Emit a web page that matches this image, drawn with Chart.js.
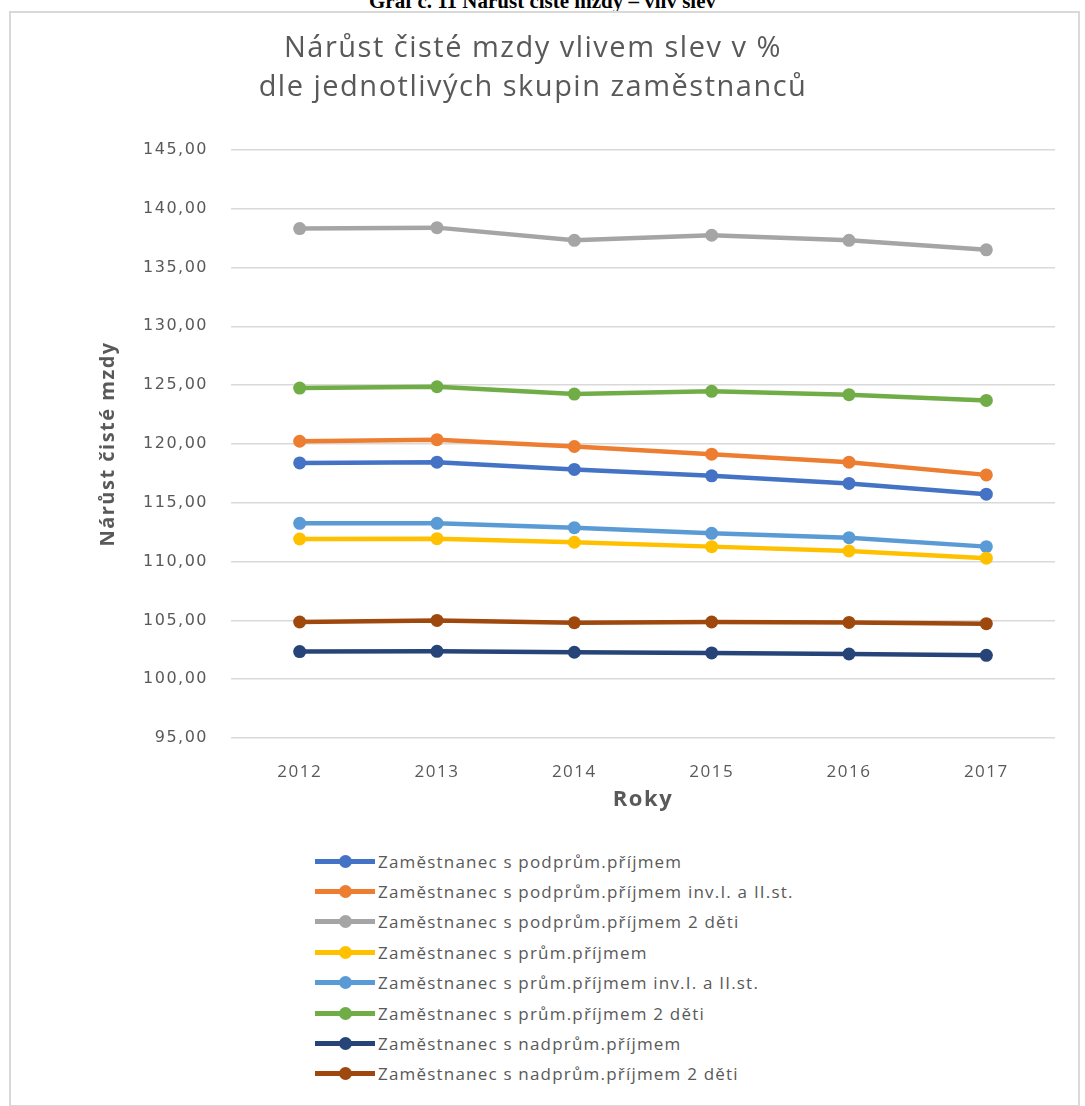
<!DOCTYPE html>
<html>
<head>
<meta charset="utf-8">
<script src="https://cdn.jsdelivr.net/npm/chart.js@4"></script>
<style>
  body { margin: 0; background: #fff; width: 1085px; height: 1106px; overflow: hidden; position: relative; }
  #caption { position: absolute; left: 0; width: 1085px; top: -11px; text-align: center;
    font: bold 21px "Liberation Serif", serif; color: #000; white-space: nowrap; }
  #frame { position: absolute; left: 9px; top: 11px; width: 1067px; height: 1092px; border: 2px solid #d9d9d9; }
  #wrap { position: absolute; left: 11px; top: 13px; }
  #legend { position: absolute; left: 315px; top: 846px; font: 17px "Open Sans", sans-serif;
    color: #595959; letter-spacing: 1.2px; }
  .row { height: 30.4px; display: flex; align-items: center; white-space: nowrap; }
  .sample { position: relative; width: 60px; height: 5px; margin-right: 3px; }
  .sample i { position: absolute; left: 24px; top: -4px; width: 13px; height: 13px; border-radius: 50%; }
</style>
</head>
<body>
<div id="caption">Graf č. 11 Nárůst čisté mzdy – vliv slev</div>
<div id="frame"></div>
<div id="wrap"><canvas id="chart" width="1066" height="822"></canvas></div>
<div id="legend"></div>
<script>
const years = ["2012", "2013", "2014", "2015", "2016", "2017"];

const podprum = [118.39, 118.45, 117.83, 117.29, 116.64, 115.73];
const podprumInv = [120.23, 120.36, 119.78, 119.13, 118.45, 117.37];
const podprum2Deti = [138.31, 138.39, 137.31, 137.74, 137.31, 136.50];
const prum = [111.92, 111.95, 111.64, 111.27, 110.90, 110.29];
const prumInv = [113.25, 113.25, 112.88, 112.40, 112.03, 111.27];
const prum2Deti = [124.75, 124.86, 124.24, 124.47, 124.19, 123.70];
const nadprum = [102.35, 102.37, 102.29, 102.23, 102.14, 102.03];
const nadprum2Deti = [104.86, 105.00, 104.80, 104.86, 104.83, 104.72];

const seriesNames = [
  "Zaměstnanec s podprům.příjmem",
  "Zaměstnanec s podprům.příjmem inv.I. a II.st.",
  "Zaměstnanec s podprům.příjmem 2 děti",
  "Zaměstnanec s prům.příjmem",
  "Zaměstnanec s prům.příjmem inv.I. a II.st.",
  "Zaměstnanec s prům.příjmem 2 děti",
  "Zaměstnanec s nadprům.příjmem",
  "Zaměstnanec s nadprům.příjmem 2 děti"
];
const seriesValues = [podprum, podprumInv, podprum2Deti, prum, prumInv, prum2Deti, nadprum, nadprum2Deti];
const colors = ["#4472C4", "#ED7D31", "#A5A5A5", "#FFC000", "#5B9BD5", "#70AD47", "#264478", "#9E480E"];

const grey = "#595959";

// canvas text in the original is a bit spaced out
const spacing = {
  id: "spacing",
  beforeUpdate: (chart) => { chart.ctx.letterSpacing = "1.5px"; },
  beforeDraw: (chart) => { chart.ctx.letterSpacing = "1.5px"; }
};

const chart = new Chart(document.getElementById("chart"), {
  type: "line",
  plugins: [spacing],
  data: {
    labels: years,
    datasets: seriesNames.map((name, i) => ({
      label: name,
      data: seriesValues[i],
      borderColor: colors[i],
      backgroundColor: colors[i],
      pointBackgroundColor: colors[i],
      borderWidth: 4.5,
      pointRadius: 6.5,
      pointBorderWidth: 0,
      tension: 0
    }))
  },
  options: {
    responsive: false,
    devicePixelRatio: 1,
    animation: false,
    layout: { padding: { right: 22, bottom: 0 } },
    plugins: {
      legend: { display: false },
      tooltip: { enabled: false },
      title: {
        display: true,
        text: ["Nárůst čisté mzdy vlivem slev v %", "dle jednotlivých skupin zaměstnanců"],
        color: grey,
        font: { family: "Open Sans", size: 29, weight: "normal", lineHeight: 1.36 },
        padding: { top: 16, bottom: 42 }
      }
    },
    scales: {
      x: {
        offset: true,
        grid: { display: false },
        border: { display: false },
        ticks: { color: grey, font: { family: "Open Sans", size: 17 }, padding: 16 },
        title: {
          display: true, text: "Roky", color: grey,
          font: { family: "Open Sans", size: 22, weight: "bold" },
          padding: { top: 0, bottom: 22 }
        },
        afterFit: (scale) => { scale.height = 97; }
      },
      y: {
        min: 95,
        max: 145,
        grid: { color: "#d9d9d9", lineWidth: 1.5, drawTicks: false },
        border: { display: false },
        ticks: {
          stepSize: 5, color: grey, padding: 23,
          font: { family: "DejaVu Sans", size: 16 },
          callback: (v) => v.toFixed(2).replace(".", ",")
        },
        title: {
          display: true, text: "Nárůst čisté mzdy", color: grey,
          font: { family: "Open Sans", size: 20, weight: "bold" },
          padding: { top: 85, bottom: 0 }
        },
        afterFit: (scale) => { scale.width = 220; }
      }
    }
  }
});

// legend list built from the chart's datasets
const legendBox = document.getElementById("legend");
chart.data.datasets.forEach((ds) => {
  const row = document.createElement("div");
  row.className = "row";
  row.innerHTML = `<span class="sample" style="background:${ds.borderColor}"><i style="background:${ds.borderColor}"></i></span><span>${ds.label}</span>`;
  legendBox.appendChild(row);
});
</script>
</body>
</html>
